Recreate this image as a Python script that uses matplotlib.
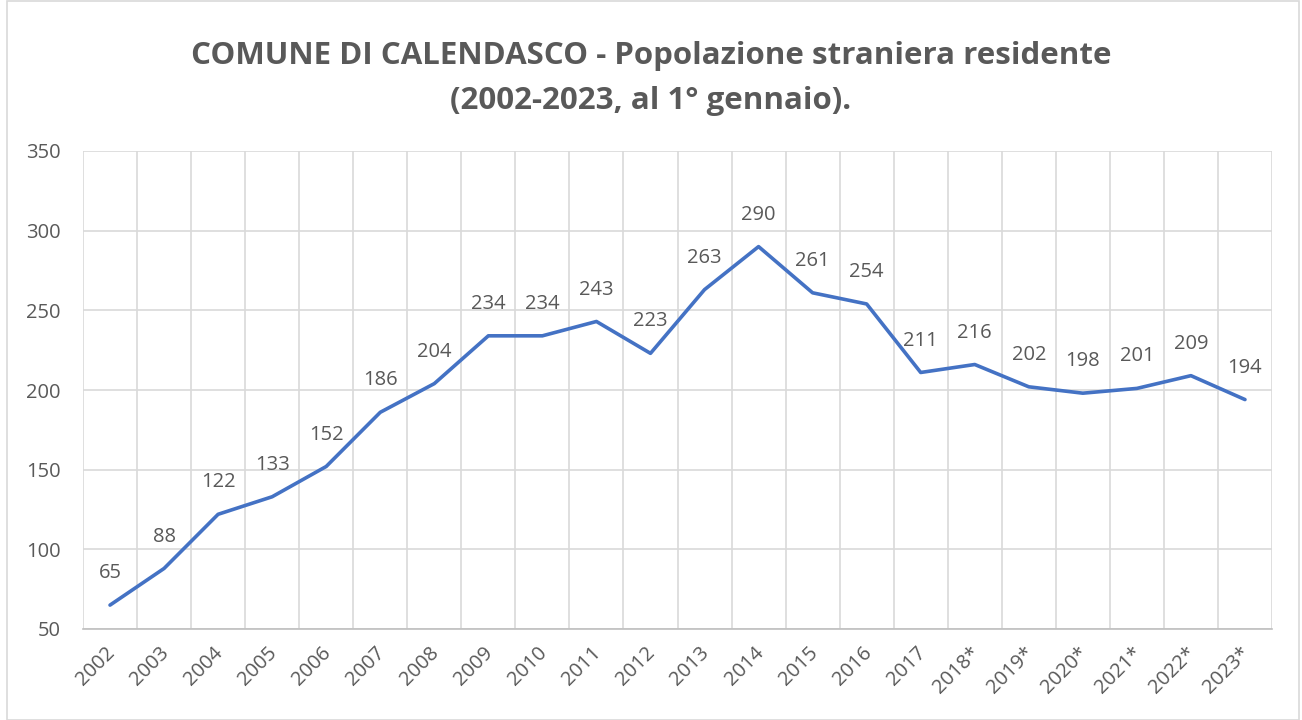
import matplotlib.pyplot as plt
from matplotlib.patches import Rectangle
from matplotlib.transforms import ScaledTranslation

plt.rcParams['font.family'] = ['Open Sans', 'DejaVu Sans']

years = ['2002', '2003', '2004', '2005', '2006', '2007', '2008', '2009', '2010',
         '2011', '2012', '2013', '2014', '2015', '2016', '2017', '2018*', '2019*',
         '2020*', '2021*', '2022*', '2023*']
residents = [65, 88, 122, 133, 152, 186, 204, 234, 234, 243, 223, 263, 290,
             261, 254, 211, 216, 202, 198, 201, 209, 194]

txt = '#595959'
grid = '#d9d9d9'

fig = plt.figure(figsize=(13.02, 7.2), dpi=100)
ax = fig.add_axes([83 / 1302, 1 - 629 / 720, (1272 - 83) / 1302, (629 - 151) / 720])

x = list(range(len(years)))
ax.plot(x, residents, color='#4472c4', linewidth=2.6, solid_capstyle='round', zorder=3)
for xi, v in zip(x, residents):
    ax.annotate(str(v), (xi, v), xytext=(0, 23), textcoords='offset points',
                ha='center', va='center', fontsize=14.5, color=txt)

ax.set_xlim(-0.5, len(years) - 0.5)
ax.set_ylim(50, 350)
ax.set_yticks(range(50, 351, 50))
ax.set_xticks(x)
ax.set_xticklabels(years, rotation=45, ha='right', rotation_mode='anchor')
ax.set_xticks([i - 0.5 for i in range(len(years) + 1)], minor=True)
ax.tick_params(axis='both', which='both', length=0, labelsize=14.5, labelcolor=txt)
ax.tick_params(axis='x', which='major', pad=10)
ax.tick_params(axis='y', pad=16)
shift = ScaledTranslation(-5 / 100, 0, fig.dpi_scale_trans)
for lab in ax.get_xticklabels():
    lab.set_transform(lab.get_transform() + shift)
ax.grid(True, which='minor', axis='x', color=grid, linewidth=1.2)
ax.grid(True, which='major', axis='y', color=grid, linewidth=1.2)
for s in ['top', 'right', 'left']:
    ax.spines[s].set_visible(False)
ax.spines['bottom'].set_color('#bfbfbf')
ax.spines['bottom'].set_linewidth(1.2)

fig.text(0.5, 1 - 56 / 720, 'COMUNE DI CALENDASCO - Popolazione straniera residente',
         ha='center', va='center', fontsize=22.5, fontweight='bold', color=txt)
fig.text(0.5, 1 - 101 / 720, '(2002-2023, al 1° gennaio).',
         ha='center', va='center', fontsize=22.5, fontweight='bold', color=txt)

fig.add_artist(Rectangle((7 / 1302, 0.0), 1292 / 1302, 0.999, transform=fig.transFigure,
                         fill=False, edgecolor=grid, linewidth=1.2))

fig.savefig('out.png', dpi=100)
